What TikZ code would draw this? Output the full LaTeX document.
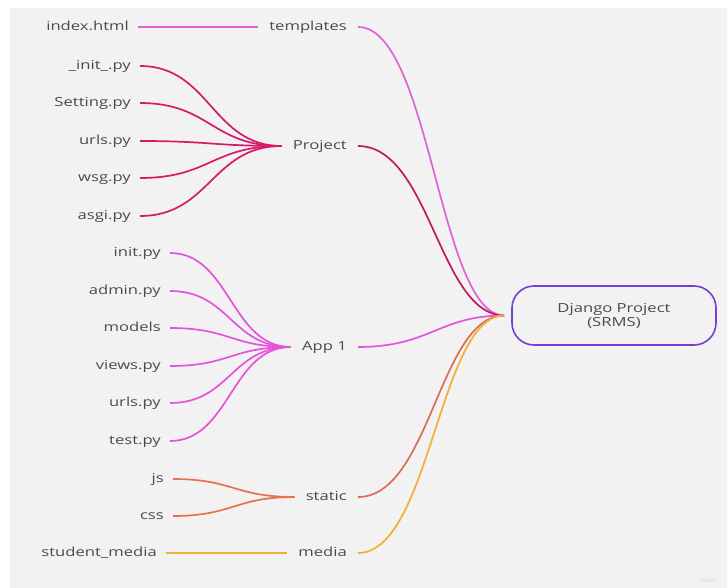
\documentclass[tikz,border=0pt]{standalone}
\usepackage{fontspec}
\setmainfont{Open Sans}[FakeStretch=1.33]
\definecolor{bg}{HTML}{F2F2F2}
\definecolor{txt}{HTML}{4A4A4A}
\definecolor{tplcol}{HTML}{E063D2}
\definecolor{prjcol}{HTML}{D6196B}
\definecolor{prjdark}{HTML}{BE1A5F}
\definecolor{appcol}{HTML}{E653DB}
\definecolor{stacol}{HTML}{E8704E}
\definecolor{stadark}{HTML}{DC6C5A}
\definecolor{medcol}{HTML}{F0B030}
\definecolor{boxcol}{HTML}{7440D2}
\definecolor{wm}{HTML}{D0D0D0}

\begin{document}
\begin{tikzpicture}[x=1pt, y=-1pt,
    lbl/.style={text=txt, font=\fontsize{12.5}{14}\selectfont},
    leaf/.style={lbl, anchor=east, inner xsep=9pt, text height=9pt, text depth=2.5pt},
    mid/.style={lbl, anchor=east, inner xsep=11pt, text height=9pt, text depth=2.5pt},
    ln/.style={line width=1.7pt}]
    \useasboundingbox (0,0) rectangle (727,588);
    \fill[bg] (10,8) rectangle (727,588);

    \node[draw=boxcol, line width=1.6pt, rounded corners=22pt, minimum width=204pt, minimum height=59pt, align=center, lbl] (django) at (614,315.5) {Django Project\\(SRMS)};

    \node[mid] (tpl) at (358,27) {templates};
    \node[mid] (prj) at (358,146) {Project};
    \node[mid] (app) at (358,347) {App 1};
    \node[mid] (sta) at (358,497) {static};
    \node[mid] (med) at (358,553) {media};

    \node[leaf] (idx) at (138,27) {index.html};

    \node[leaf] (pinit) at (140,66) {\_init\_.py};
    \node[leaf] (pset) at (140,103) {Setting.py};
    \node[leaf] (purl) at (140,141) {urls.py};
    \node[leaf] (pwsg) at (140,178) {wsg.py};
    \node[leaf] (pasg) at (140,216) {asgi.py};

    \node[leaf] (ainit) at (170,253) {init.py};
    \node[leaf] (aadm) at (170,291) {admin.py};
    \node[leaf] (amod) at (170,328) {models};
    \node[leaf] (aview) at (170,366) {views.py};
    \node[leaf] (aurl) at (170,403) {urls.py};
    \node[leaf] (atest) at (170,441) {test.py};

    \node[leaf] (js) at (173,479) {js};
    \node[leaf] (css) at (173,516) {css};

    \node[leaf] (smed) at (166,553) {student\_media};

    \node[text=wm, font=\fontsize{5}{6}\selectfont] (miro) at (708,581) {miro};

    \draw[ln, tplcol] (idx.east) -- (tpl.west);

    \draw[ln, prjcol] (pinit.east) .. controls +(70,0) and +(-70,0) .. (prj.west);
    \draw[ln, prjcol] (pset.east) .. controls +(70,0) and +(-70,0) .. (prj.west);
    \draw[ln, prjcol] (purl.east) .. controls +(70,0) and +(-70,0) .. (prj.west);
    \draw[ln, prjcol] (pwsg.east) .. controls +(70,0) and +(-70,0) .. (prj.west);
    \draw[ln, prjcol] (pasg.east) .. controls +(70,0) and +(-70,0) .. (prj.west);

    \draw[ln, appcol] (ainit.east) .. controls +(60,0) and +(-60,0) .. (app.west);
    \draw[ln, appcol] (aadm.east) .. controls +(60,0) and +(-60,0) .. (app.west);
    \draw[ln, appcol] (amod.east) .. controls +(60,0) and +(-60,0) .. (app.west);
    \draw[ln, appcol] (aview.east) .. controls +(60,0) and +(-60,0) .. (app.west);
    \draw[ln, appcol] (aurl.east) .. controls +(60,0) and +(-60,0) .. (app.west);
    \draw[ln, appcol] (atest.east) .. controls +(60,0) and +(-60,0) .. (app.west);

    \draw[ln, stacol] (js.east) .. controls +(60,0) and +(-60,0) .. (sta.west);
    \draw[ln, stacol] (css.east) .. controls +(60,0) and +(-60,0) .. (sta.west);

    \draw[ln, medcol] (smed.east) -- (med.west);

    \draw[ln, tplcol, shorten >=7pt] (tpl.east) .. controls +(72,0) and +(-72,0) .. (django.west);
    \draw[ln, prjdark, shorten >=7pt] (prj.east) .. controls +(72,0) and +(-72,0) .. (django.west);
    \draw[ln, appcol, shorten >=7pt] (app.east) .. controls +(72,0) and +(-72,0) .. (django.west);
    \draw[ln, stadark, shorten >=7pt] (sta.east) .. controls +(72,0) and +(-72,0) .. (django.west);
    \draw[ln, medcol, shorten >=7pt] (med.east) .. controls +(72,0) and +(-72,0) .. (django.west);
  \end{tikzpicture}
\end{document}
